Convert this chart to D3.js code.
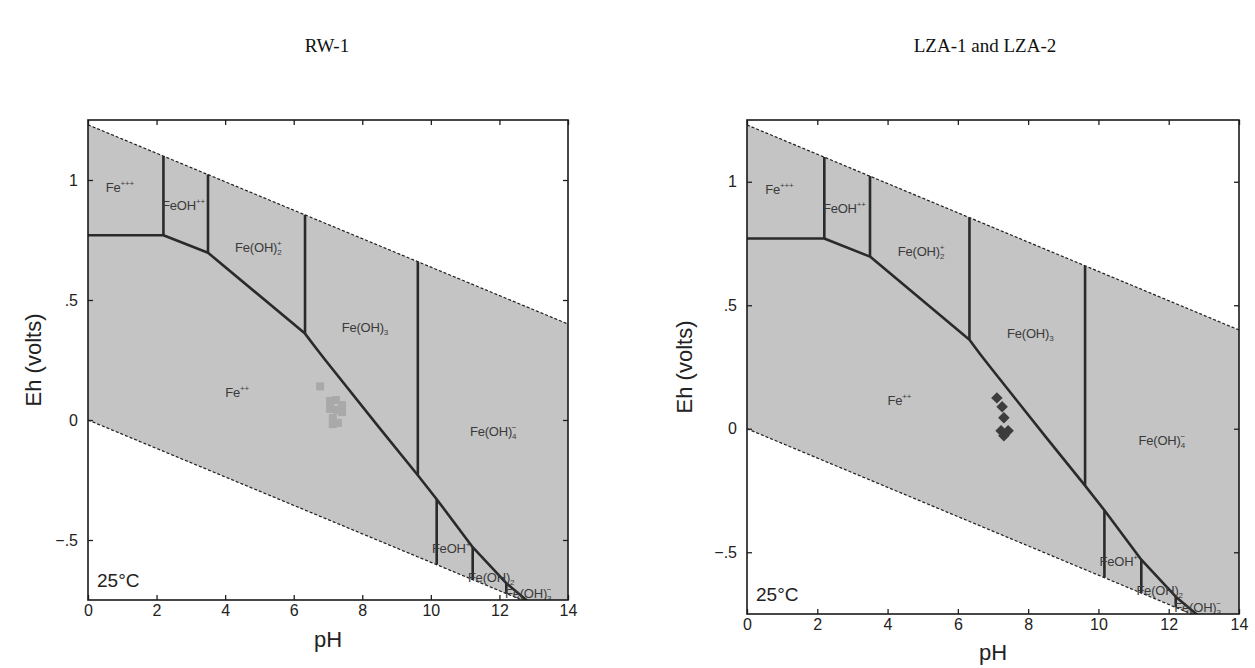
<!DOCTYPE html>
<html>
<head>
<meta charset="utf-8">
<script src="https://cdn.jsdelivr.net/npm/d3@7"></script>
<style>
body{margin:0;background:#fff;}
</style>
</head>
<body>
<script>
// Eh-pH diagram data (pH, Eh in volts)
var phTicks = [0,2,4,6,8,10,12,14];
var ehTicks = [-0.5,0,0.5,1];
var ehTickLabels = ["\u2212.5","0",".5","1"];

var waterUpper = [[0,1.23],[14,0.40]];
var waterLower = [[0,0],[14,-0.83]];

// Fe++ field boundary (incl. Fe+++/Fe++ horizontal)
var ferrousBoundary = [[0,0.77],[2.2,0.77],[3.5,0.697],[6.33,0.36],[6.62,0.305],[6.92,0.25],[8.5,-0.033],[9.62,-0.23],[10.17,-0.33],[11.22,-0.53],[12.2,-0.68],[13.2,-0.80]];

// vertical boundaries: pH, Eh bottom, Eh top
var verticals = [[2.2,0.77,1.10],[3.5,0.697,1.023],[6.33,0.36,0.855],[9.62,-0.23,0.66],[10.17,-0.33,-0.602],[11.22,-0.53,-0.664],[12.2,-0.68,-0.722]];

// species labels: base, sub, sup, pH, Eh
var species = [
  ["Fe","","+++",0.52,0.95],
  ["FeOH","","++",2.16,0.875],
  ["Fe(OH)","2","+",4.29,0.70],
  ["Fe(OH)","3","",7.4,0.367],
  ["Fe","","++",4.0,0.096],
  ["Fe(OH)","4","\u2212",11.14,-0.067],
  ["FeOH","","+",10.03,-0.555],
  ["Fe(OH)","2","",11.08,-0.675],
  ["Fe(OH)","3","\u2212",12.16,-0.74]
];

var rwPH = [6.77,7.06,7.23,7.41,7.06,7.26,7.41,7.14,7.29,7.14];
var rwEh = [0.14,0.079,0.083,0.062,0.046,0.042,0.033,0.008,-0.012,-0.017];

var lzaPH = [7.11,7.26,7.31,7.23,7.43,7.31];
var lzaEh = [0.125,0.089,0.045,-0.008,-0.008,-0.028];

const svg_width = 1255, svg_height = 668;
var svg = d3.select("body").append("svg")
.attr("width",svg_width)
.attr("height",svg_height)
.style("font-family","'Liberation Sans',Arial,sans-serif");

var panels = [
  {id:"rw",title:"RW-1",x0:88,x1:568,y0:120,y1:600,ph:rwPH,eh:rwEh,marker:"square",fill:"#a9a9a9",size:64,titleX:327,ehLabelX:33,phLabelY:647},
  {id:"lza",title:"LZA-1 and LZA-2",x0:747,x1:1239,y0:120,y1:614,ph:lzaPH,eh:lzaEh,marker:"diamond",fill:"#3c3c3c",size:66,titleX:985,ehLabelX:684,phLabelY:660}
];

panels.forEach(function(p){ drawPanel(p); });

function drawPanel(p){
	var x = d3.scaleLinear().domain([0,14]).range([p.x0,p.x1]);
	var y = d3.scaleLinear().domain([-0.75,1.25]).range([p.y1,p.y0]);
	var g = svg.append("g");

	g.append("clipPath").attr("id","clip-"+p.id)
	.append("rect")
	.attr("x",p.x0).attr("y",p.y0)
	.attr("width",p.x1-p.x0).attr("height",p.y1-p.y0);

	var plot = g.append("g").attr("clip-path","url(#clip-"+p.id+")");

	//water stability field
	var area = waterUpper.concat(waterLower.slice().reverse());
	var line = d3.line().x(function(d){return x(d[0])}).y(function(d){return y(d[1])});
	plot.append("path")
	.attr("d",line(area)+"Z")
	.attr("fill","#c4c4c4");

	[waterUpper,waterLower].forEach(function(w){
		plot.append("path")
		.attr("d",line(w))
		.attr("fill","none")
		.attr("stroke","#1e1e1e")
		.attr("stroke-width",1.2)
		.attr("stroke-dasharray","3,2");
	});

	//boundaries
	plot.append("path")
	.attr("d",line(ferrousBoundary))
	.attr("fill","none")
	.attr("stroke","#2a2a2a")
	.attr("stroke-width",2.6)
	.attr("stroke-linejoin","round");

	plot.selectAll("line.vb")
	.data(verticals)
	.enter()
	.append("line")
	.attr("class","vb")
	.attr("x1",function(d){return x(d[0])})
	.attr("x2",function(d){return x(d[0])})
	.attr("y1",function(d){return y(d[1])})
	.attr("y2",function(d){return y(d[2])})
	.attr("stroke","#2a2a2a")
	.attr("stroke-width",2.6);

	//species labels
	species.forEach(function(s){
		var t = plot.append("text")
		.attr("x",x(s[3]))
		.attr("y",y(s[4]))
		.attr("font-size",13)
		.attr("fill","#3a3a3a")
		.attr("letter-spacing","-0.2");
		t.append("tspan").text(s[0]);
		if (s[1] && s[2]){
			t.append("tspan").attr("dy",3).attr("font-size",8).text(s[1]);
			t.append("tspan").attr("dx",-4.5).attr("dy",-9).attr("font-size",8).text(s[2]);
		} else if (s[1]){
			t.append("tspan").attr("dy",3).attr("font-size",8).text(s[1]);
		} else if (s[2]){
			t.append("tspan").attr("dy",-6).attr("font-size",8).text(s[2]);
		}
	});

	//sample points
	var sym = d3.symbol().type(d3.symbolSquare).size(p.size);
	var pts = p.ph.map(function(v,i){return [v,p.eh[i]]});
	plot.selectAll("path.pt")
	.data(pts)
	.enter()
	.append("path")
	.attr("class","pt")
	.attr("d",sym)
	.attr("transform",function(d){
		return "translate("+x(d[0])+","+y(d[1])+")"+(p.marker=="diamond"?" rotate(45)":"");
	})
	.attr("fill",p.fill);

	//axes, ticks pointing inward
	var bottom = g.append("g").attr("transform","translate(0,"+p.y1+")")
	.call(d3.axisBottom(x).tickValues(phTicks).tickSize(-5).tickPadding(5).tickFormat(d3.format("d")));
	var top = g.append("g").attr("transform","translate(0,"+p.y0+")")
	.call(d3.axisTop(x).tickValues(phTicks).tickSize(-5).tickFormat(""));
	var left = g.append("g").attr("transform","translate("+p.x0+",0)")
	.call(d3.axisLeft(y).tickValues(ehTicks).tickSize(-5).tickPadding(10).tickFormat(function(d,i){return ehTickLabels[i]}));
	var right = g.append("g").attr("transform","translate("+p.x1+",0)")
	.call(d3.axisRight(y).tickValues(ehTicks).tickSize(-5).tickFormat(""));
	[bottom,top,left,right].forEach(function(a){
		a.select(".domain").remove();
		a.selectAll("line").attr("stroke","#222").attr("stroke-width",1.3);
		a.selectAll("text").attr("font-size",16).attr("fill","#222").style("font-family","'Liberation Sans',Arial,sans-serif");
	});

	//frame
	g.append("rect")
	.attr("x",p.x0).attr("y",p.y0)
	.attr("width",p.x1-p.x0).attr("height",p.y1-p.y0)
	.attr("fill","none")
	.attr("stroke","#1a1a1a")
	.attr("stroke-width",1.6);

	g.append("text")
	.attr("x",p.x0+9).attr("y",p.y1-13)
	.attr("font-size",19).attr("fill","#222")
	.text("25\u00B0C");

	g.append("text")
	.attr("x",(p.x0+p.x1)/2).attr("y",p.phLabelY)
	.attr("text-anchor","middle")
	.attr("font-size",22).attr("fill","#222")
	.text("pH");

	g.append("text")
	.attr("transform","translate("+p.ehLabelX+","+((p.y0+p.y1)/2)+") rotate(-90)")
	.attr("text-anchor","middle")
	.attr("dy","0.35em")
	.attr("font-size",22).attr("fill","#222")
	.text("Eh (volts)");

	svg.append("text")
	.attr("x",p.titleX).attr("y",52)
	.attr("text-anchor","middle")
	.attr("font-family","'Liberation Serif','Times New Roman',serif")
	.attr("font-size",19).attr("fill","#111")
	.text(p.title);
}
</script>
</body>
</html>
